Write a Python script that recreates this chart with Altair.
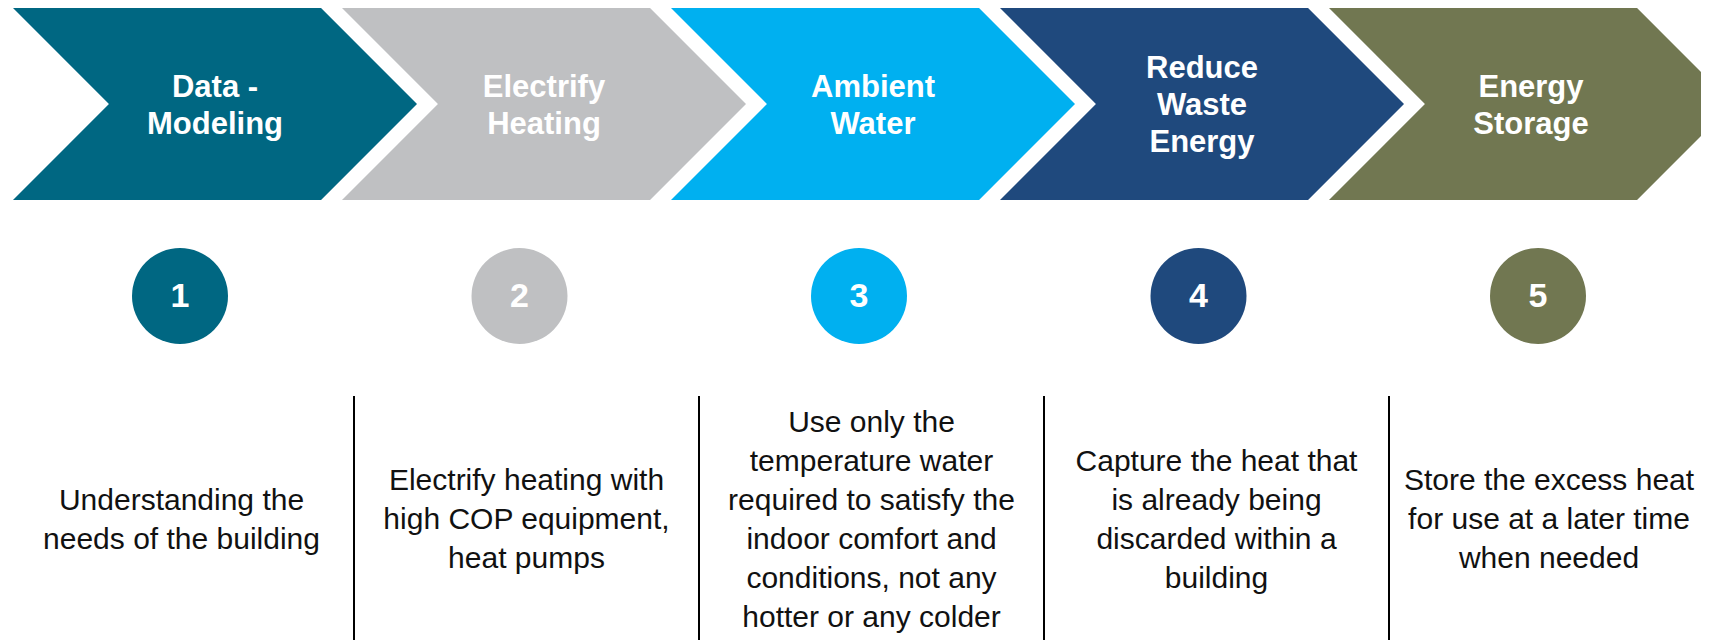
import altair as alt
import pandas as pd

# ---- data ----
step_index = [0, 1, 2, 3, 4]
titles = ["Data -\nModeling", "Electrify\nHeating", "Ambient\nWater",
          "Reduce\nWaste\nEnergy", "Energy\nStorage"]
numbers = ["1", "2", "3", "4", "5"]
descriptions = [
    "Understanding the\nneeds of the building",
    "Electrify heating with\nhigh COP equipment,\nheat pumps",
    "Use only the\ntemperature water\nrequired to satisfy the\nindoor comfort and\nconditions, not any\nhotter or any colder",
    "Capture the heat that\nis already being\ndiscarded within a\nbuilding",
    "Store the excess heat\nfor use at a later time\nwhen needed",
]
colors = ["#006782", "#BFC0C2", "#00B0F0", "#1F497D", "#717751"]
divider_index = [1, 2, 3, 4]

steps = pd.DataFrame({"i": step_index, "title": titles, "num": numbers,
                      "desc": descriptions, "color": colors})
dividers = pd.DataFrame({"k": divider_index})

W, H = 1693, 632
OFF = 8  # page margin, so data units equal page pixels

xs = alt.Scale(domain=[OFF, OFF + W], range=[0, W])
ys = alt.Scale(domain=[OFF + H, OFF])

CHEVRON = "M -1 -0.475 L 0.525 -0.475 L 1 0 L 0.525 0.475 L -1 0.475 L -0.525 0 Z"

base = alt.Chart(steps).transform_calculate(
    cx="215 + 329 * datum.i",
    ox="180 + 339.5 * datum.i",
    tx="min(181.5 + 345 * datum.i, 1549)",
    nt="length(split(datum.title, '\\n'))",
    nd="length(split(datum.desc, '\\n'))",
)

chevrons = base.mark_point(shape=CHEVRON, filled=True, opacity=1,
                           size=404 * 404, strokeWidth=0).encode(
    x=alt.X("cx:Q", scale=xs, axis=None),
    y=alt.Y("yv:Q", scale=ys, axis=None),
    color=alt.Color("color:N", scale=None),
).transform_calculate(yv="104")

chev_text = base.mark_text(font="Liberation Sans", fontWeight="bold", fontSize=31,
                           color="white", lineBreak="\n", lineHeight=37,
                           align="center", baseline="middle").encode(
    x=alt.X("cx:Q", scale=xs, axis=None),
    y=alt.Y("yv:Q", scale=ys, axis=None),
    text="title:N",
).transform_calculate(yv="106 - (datum.nt - 1) * 37 / 2")

circles = base.mark_circle(opacity=1, size=96 * 96).encode(
    x=alt.X("ox:Q", scale=xs, axis=None),
    y=alt.Y("yv:Q", scale=ys, axis=None),
    color=alt.Color("color:N", scale=None),
).transform_calculate(yv="296")

num_text = base.mark_text(font="Liberation Sans", fontWeight="bold", fontSize=34,
                          color="white", align="center", baseline="middle").encode(
    x=alt.X("ox:Q", scale=xs, axis=None),
    y=alt.Y("yv:Q", scale=ys, axis=None),
    text="num:N",
).transform_calculate(yv="297")

desc_text = base.mark_text(font="Liberation Sans", fontSize=30, color="#111111",
                           lineBreak="\n", lineHeight=39,
                           align="center", baseline="middle").encode(
    x=alt.X("tx:Q", scale=xs, axis=None),
    y=alt.Y("yv:Q", scale=ys, axis=None),
    text="desc:N",
).transform_calculate(yv="520 - (datum.nd - 1) * 39 / 2")

rules = alt.Chart(dividers).mark_rule(color="black", strokeWidth=2).encode(
    x=alt.X("rx:Q", scale=xs, axis=None),
    y=alt.Y("y1:Q", scale=ys, axis=None),
    y2="y2:Q",
).transform_calculate(rx="9 + 345 * datum.k", y1="396", y2="660")

chart = alt.layer(chevrons, chev_text, circles, num_text, desc_text, rules).properties(
    width=W, height=H, padding=0,
    autosize=alt.AutoSizeParams(type="none"),
).configure_view(stroke=None)

chart.save("out.html", embed_options={"renderer": "svg", "actions": False})
